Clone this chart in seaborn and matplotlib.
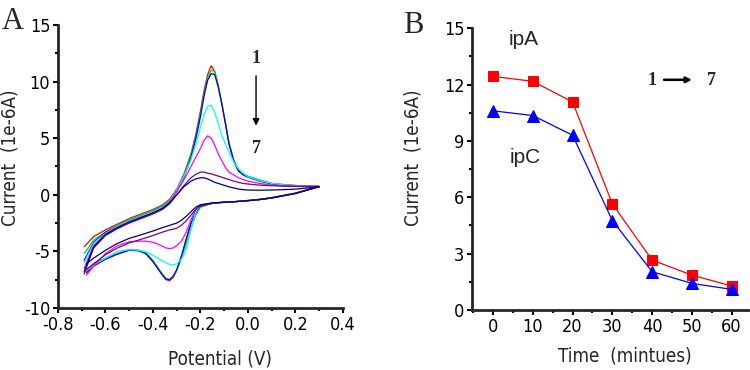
import pandas as pd
import seaborn as sns
import matplotlib.pyplot as plt
from matplotlib.ticker import MultipleLocator

# ---- panel A: cyclic voltammograms (curves 1..7) ----
e_fwd = [-0.69, -0.65, -0.6, -0.55, -0.5, -0.45, -0.4, -0.36, -0.33, -0.3,
         -0.27, -0.24, -0.22, -0.2, -0.185, -0.17, -0.155, -0.14, -0.125, -0.11,
         -0.095, -0.08, -0.06, -0.04, -0.02, 0.0, 0.05, 0.1, 0.15, 0.2, 0.25, 0.3]
e_rev = [0.3, 0.25, 0.2, 0.15, 0.1, 0.05, 0.0, -0.05, -0.1, -0.15, -0.2, -0.22,
         -0.24, -0.26, -0.28, -0.3, -0.315, -0.33, -0.345, -0.36, -0.38, -0.4,
         -0.43, -0.46, -0.5, -0.55, -0.6, -0.65, -0.68]

fwd_1 = [-4.6, -3.7, -3.1, -2.6, -2.1, -1.7, -1.3, -0.9, -0.4, 0.5, 1.8, 3.6, 5.3, 7.4,
         9.2, 10.6, 11.4, 10.9, 9.6, 8.0, 6.3, 4.5, 3.0, 2.1, 1.8, 1.6, 1.3, 1.0, 0.9,
         0.82, 0.78, 0.75]
fwd_2 = [-5.2, -4.0, -3.3, -2.7, -2.2, -1.8, -1.4, -1.0, -0.5, 0.4, 1.7, 3.5, 5.1, 7.1,
         8.9, 10.3, 11.0, 10.9, 9.7, 8.1, 6.4, 4.6, 3.1, 2.2, 1.85, 1.65, 1.3, 1.0, 0.9,
         0.82, 0.78, 0.75]
fwd_3 = [-5.8, -4.2, -3.3, -2.8, -2.3, -1.9, -1.5, -1.1, -0.6, 0.3, 1.5, 3.3, 4.9, 6.9,
         8.7, 10.1, 10.7, 10.6, 9.5, 8.0, 6.3, 4.5, 3.0, 2.1, 1.75, 1.55, 1.2, 0.95,
         0.85, 0.8, 0.76, 0.72]
fwd_4 = [-6.0, -4.3, -3.4, -2.8, -2.3, -1.9, -1.5, -1.1, -0.6, 0.4, 1.6, 3.1, 4.4, 6.0,
         7.1, 7.8, 7.9, 7.3, 6.3, 5.2, 4.5, 3.8, 2.9, 2.3, 1.9, 1.6, 1.25, 1.0, 0.88,
         0.8, 0.76, 0.72]
fwd_5 = [-6.5, -4.5, -3.5, -2.9, -2.4, -2.0, -1.6, -1.2, -0.7, 0.3, 1.3, 2.5, 3.3, 4.1,
         4.8, 5.2, 5.0, 4.4, 3.6, 3.0, 2.4, 2.0, 1.75, 1.5, 1.35, 1.2, 1.0, 0.85, 0.8,
         0.76, 0.74, 0.72]
fwd_6 = [-7.0, -4.7, -3.6, -3.0, -2.5, -2.1, -1.7, -1.3, -0.8, 0.0, 0.8, 1.5, 1.8, 2.0,
         2.0, 1.9, 1.85, 1.75, 1.65, 1.55, 1.45, 1.35, 1.2, 1.1, 1.0, 0.95, 0.85, 0.8,
         0.76, 0.74, 0.72, 0.7]
fwd_7 = [-6.8, -4.6, -3.5, -2.9, -2.4, -2.0, -1.6, -1.2, -0.7, 0.0, 0.7, 1.2, 1.4, 1.5,
         1.5, 1.4, 1.25, 1.1, 1.0, 0.9, 0.8, 0.7, 0.6, 0.5, 0.45, 0.42, 0.4, 0.42, 0.45,
         0.5, 0.6, 0.7]

rev_1 = [0.75, 0.45, 0.15, -0.05, -0.25, -0.4, -0.5, -0.6, -0.65, -0.75, -1.0, -1.6,
         -2.6, -4.0, -5.5, -6.7, -7.3, -7.6, -7.5, -7.1, -6.5, -5.9, -5.2, -4.9, -4.85,
         -5.2, -5.6, -6.2, -6.8]
rev_2 = [0.75, 0.45, 0.15, -0.05, -0.25, -0.4, -0.5, -0.6, -0.65, -0.75, -1.1, -1.8,
         -3.0, -4.3, -5.6, -6.7, -7.2, -7.5, -7.4, -7.0, -6.4, -5.8, -5.1, -4.9, -4.9,
         -5.2, -5.6, -6.1, -6.6]
rev_3 = [0.72, 0.42, 0.12, -0.08, -0.28, -0.42, -0.52, -0.6, -0.66, -0.76, -1.0, -1.5,
         -2.5, -3.9, -5.4, -6.6, -7.2, -7.5, -7.45, -7.1, -6.5, -5.9, -5.2, -4.95, -4.9,
         -5.25, -5.7, -6.3, -6.9]
rev_4 = [0.72, 0.42, 0.12, -0.08, -0.28, -0.42, -0.52, -0.6, -0.66, -0.75, -0.9, -1.5,
         -3.0, -4.8, -5.7, -6.1, -6.2, -6.15, -6.0, -5.85, -5.6, -5.35, -5.05, -4.9,
         -4.85, -5.0, -5.6, -6.2, -6.7]
rev_5 = [0.72, 0.42, 0.12, -0.08, -0.28, -0.42, -0.52, -0.6, -0.66, -0.75, -0.9, -1.3,
         -2.2, -3.3, -4.1, -4.5, -4.7, -4.75, -4.7, -4.55, -4.35, -4.2, -4.1, -4.1,
         -4.15, -4.5, -5.2, -6.3, -7.1]
rev_6 = [0.72, 0.42, 0.12, -0.08, -0.28, -0.42, -0.52, -0.6, -0.66, -0.75, -0.95, -1.3,
         -1.8, -2.3, -2.7, -2.95, -3.05, -3.1, -3.2, -3.3, -3.45, -3.6, -3.8, -4.0,
         -4.25, -4.7, -5.3, -6.1, -6.6]
rev_7 = [0.72, 0.42, 0.12, -0.08, -0.28, -0.42, -0.52, -0.6, -0.66, -0.72, -0.88, -1.1,
         -1.5, -1.9, -2.25, -2.5, -2.6, -2.7, -2.8, -2.9, -3.05, -3.2, -3.4, -3.6,
         -3.85, -4.3, -4.9, -5.6, -6.1]

cv_colors = ['#ff0000', '#00e000', '#0000ff', '#00ffff', '#ff00ff', '#800080', '#000080']

# ---- panel B: peak currents vs time ----
time_min = [0, 10, 20, 30, 40, 50, 60]
ipa = [12.43, 12.17, 11.07, 5.65, 2.66, 1.86, 1.28]
ipc = [10.6, 10.35, 9.3, 4.76, 2.04, 1.42, 1.1]

sns.set_theme(style='ticks')
plt.rcParams['font.family'] = ['DejaVu Sans']
plt.rcParams.update({'font.stretch': 'condensed', 'axes.unicode_minus': False,
                     'axes.linewidth': 2, 'xtick.major.width': 1.5,
                     'ytick.major.width': 1.5, 'xtick.minor.width': 1.5,
                     'ytick.minor.width': 1.5, 'xtick.major.size': 3.5,
                     'ytick.major.size': 3.5, 'xtick.minor.size': 2.5,
                     'ytick.minor.size': 2.5, 'xtick.labelsize': 13,
                     'ytick.labelsize': 13, 'axes.labelsize': 13.5})

fwd = [fwd_1, fwd_2, fwd_3, fwd_4, fwd_5, fwd_6, fwd_7]
rev = [rev_1, rev_2, rev_3, rev_4, rev_5, rev_6, rev_7]
frames = []
for k, (f, r) in enumerate(zip(fwd, rev), start=1):
    frames.append(pd.DataFrame({'E': e_fwd + e_rev, 'I': f + r, 'curve': str(k)}))
cv = pd.concat(frames, ignore_index=True)

fig = plt.figure(figsize=(7.5, 3.7), dpi=100)
axA = fig.add_axes([0.0773, 0.1676, 0.38, 0.765])
axB = fig.add_axes([0.6293, 0.162, 0.368, 0.762])

sns.lineplot(data=cv, x='E', y='I', hue='curve', palette=cv_colors, sort=False,
             estimator=None, lw=0.9, legend=False, ax=axA)
axA.set_xlim(-0.8, 0.4)
axA.set_ylim(-10, 15)
axA.xaxis.set_major_locator(MultipleLocator(0.2))
axA.xaxis.set_minor_locator(MultipleLocator(0.1))
axA.yaxis.set_major_locator(MultipleLocator(5))
axA.yaxis.set_minor_locator(MultipleLocator(2.5))
axA.set_xticklabels([f'{v:.1f}' for v in axA.get_xticks()])
axA.set_xlabel('Potential (V)')
axA.set_ylabel('Current  (1e-6A)')
axA.xaxis.set_label_coords(0.568, -0.148)
axA.yaxis.set_label_coords(-0.135, 0.53)
axA.text(0.034, 12.0, '1', ha='center', va='center', fontsize=13,
         fontweight='bold', family='Liberation Serif')
axA.text(0.034, 4.1, '7', ha='center', va='center', fontsize=13,
         fontweight='bold', family='Liberation Serif')
axA.annotate('', xy=(0.034, 6.1), xytext=(0.034, 10.5),
             arrowprops=dict(arrowstyle='-|>', color='black', lw=1,
                             mutation_scale=10, shrinkA=0, shrinkB=0))

sns.lineplot(x=time_min, y=ipa, color='#ff0000', marker='s', markersize=6.5,
             markeredgecolor='#ff0000', lw=0.9, ax=axB)
sns.lineplot(x=time_min, y=ipc, color='#0000ff', marker='^', markersize=8.5,
             markeredgecolor='#0000ff', lw=0.9, ax=axB)
axB.set_xlim(-5.3, 64.1)
axB.set_ylim(0, 15)
axB.xaxis.set_major_locator(MultipleLocator(10))
axB.xaxis.set_minor_locator(MultipleLocator(5))
axB.yaxis.set_major_locator(MultipleLocator(3))
axB.yaxis.set_minor_locator(MultipleLocator(1.5))
axB.set_xlabel('Time  (mintues)')
axB.set_ylabel('Current  (1e-6A)')
axB.xaxis.set_label_coords(0.554, -0.131)
axB.yaxis.set_label_coords(-0.178, 0.54)
axB.text(7.8, 14.4, 'ipA', ha='center', va='center', fontsize=15,
         family='Liberation Sans')
axB.text(8.0, 8.1, 'ipC', ha='center', va='center', fontsize=15,
         family='Liberation Sans')
axB.text(40, 12.2, '1', ha='center', va='center', fontsize=13,
         fontweight='bold', family='Liberation Serif')
axB.text(55, 12.2, '7', ha='center', va='center', fontsize=13,
         fontweight='bold', family='Liberation Serif')
axB.annotate('', xy=(50, 12.25), xytext=(43, 12.25),
             arrowprops=dict(arrowstyle='-|>', color='black', lw=1.8,
                             mutation_scale=8, shrinkA=0, shrinkB=0))

for ax in (axA, axB):
    sns.despine(ax=ax)
    ax.tick_params(which='both', direction='out', colors='black', pad=2)

fig.text(0.002, 0.98, 'A', ha='left', va='top', fontsize=22, family='Liberation Serif')
fig.text(0.537, 0.97, 'B', ha='left', va='top', fontsize=22, family='Liberation Serif')

fig.savefig('out.png', dpi=100)
